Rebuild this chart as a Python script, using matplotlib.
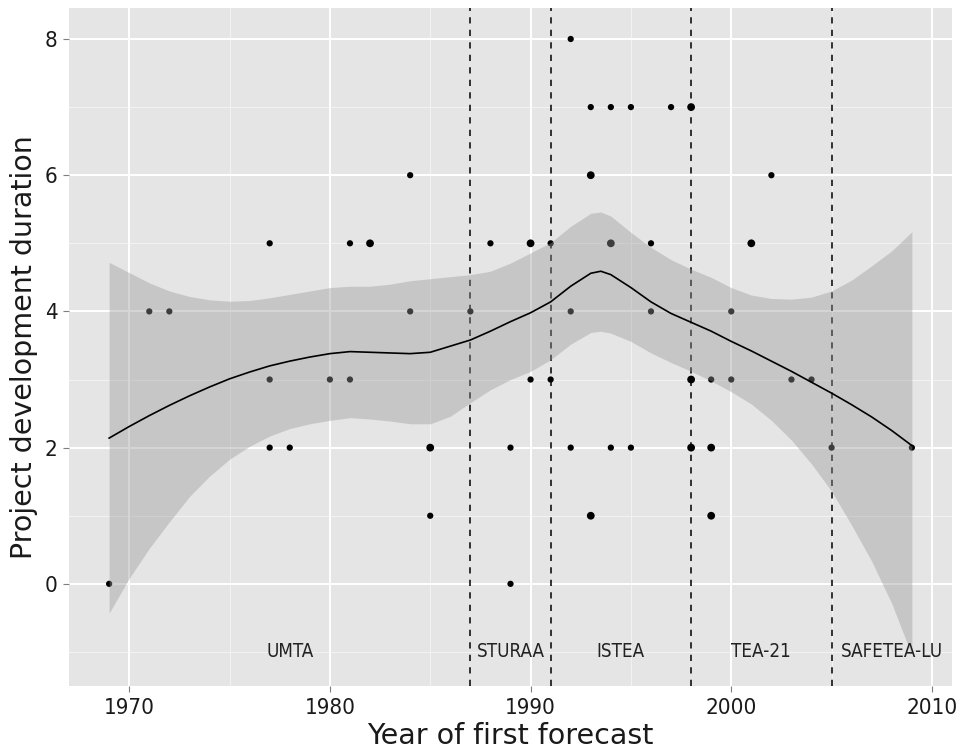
import matplotlib
matplotlib.use("Agg")
import matplotlib.pyplot as plt
from collections import Counter

# Projects: year of first forecast and development duration (years)
years = [1992,
         1993, 1994, 1995, 1997, 1998, 1998,
         1984, 1993, 1993, 2002,
         1977, 1981, 1982, 1982, 1988, 1990, 1990, 1991, 1994, 1994, 1996, 2001, 2001,
         1971, 1972, 1984, 1987, 1992, 1996, 2000,
         1977, 1980, 1981, 1990, 1991, 1998, 1998, 1999, 2000, 2003, 2004,
         1977, 1978, 1985, 1985, 1989, 1992, 1994, 1995, 1998, 1998, 1999, 1999, 2005, 2009,
         1985, 1993, 1993, 1999, 1999,
         1969, 1989]
durations = [8,
             7, 7, 7, 7, 7, 7,
             6, 6, 6, 6,
             5, 5, 5, 5, 5, 5, 5, 5, 5, 5, 5, 5, 5,
             4, 4, 4, 4, 4, 4, 4,
             3, 3, 3, 3, 3, 3, 3, 3, 3, 3, 3,
             2, 2, 2, 2, 2, 2, 2, 2, 2, 2, 2, 2, 2, 2,
             1, 1, 1, 1, 1,
             0, 0]

# Federal transit acts
act_years = [1987, 1991, 1998, 2005]
act_names = ["UMTA", "STURAA", "ISTEA", "TEA-21", "SAFETEA-LU"]
act_label_x = [1978, 1989, 1994.5, 2001.5, 2008]
act_label_y = -1

# Smoothed trend with 95% confidence band
fit_years = [1969, 1970, 1971, 1972, 1973, 1974, 1975, 1976, 1977, 1978,
             1979, 1980, 1981, 1982, 1983, 1984, 1985, 1986, 1987, 1988,
             1989, 1990, 1991, 1992, 1993, 1993.5, 1994, 1995, 1996, 1997,
             1998, 1999, 2000, 2001, 2002, 2003, 2004, 2005, 2006, 2007,
             2008, 2009]
fit_mid = [2.14, 2.31, 2.47, 2.62, 2.76, 2.89, 3.01, 3.11, 3.20, 3.27,
           3.33, 3.38, 3.41, 3.40, 3.39, 3.38, 3.40, 3.49, 3.58, 3.71,
           3.85, 3.98, 4.14, 4.37, 4.56, 4.59, 4.54, 4.35, 4.14, 3.97,
           3.84, 3.71, 3.56, 3.42, 3.27, 3.12, 2.96, 2.80, 2.63, 2.45,
           2.25, 2.03]
fit_high = [4.72, 4.57, 4.42, 4.30, 4.22, 4.17, 4.15, 4.16, 4.20, 4.25,
            4.30, 4.35, 4.37, 4.37, 4.40, 4.45, 4.48, 4.51, 4.54, 4.59,
            4.71, 4.86, 5.01, 5.25, 5.44, 5.46, 5.40, 5.16, 4.94, 4.76,
            4.62, 4.50, 4.35, 4.24, 4.19, 4.18, 4.21, 4.30, 4.46, 4.67,
            4.89, 5.17]
fit_low = [-0.43, 0.08, 0.52, 0.91, 1.28, 1.58, 1.83, 2.02, 2.17, 2.28,
           2.35, 2.40, 2.44, 2.42, 2.39, 2.35, 2.35, 2.46, 2.66, 2.85,
           3.00, 3.12, 3.29, 3.52, 3.69, 3.71, 3.68, 3.56, 3.39, 3.25,
           3.12, 2.98, 2.82, 2.64, 2.40, 2.11, 1.76, 1.36, 0.86, 0.33,
           -0.29, -1.05]

x_ticks = [1970, 1980, 1990, 2000, 2010]
y_ticks = [0, 2, 4, 6, 8]

FONT = dict(family="DejaVu Sans", stretch="condensed")
TEXT_COL = "#1a1a1a"

plt.rcParams["lines.scale_dashes"] = False

fig = plt.figure(figsize=(9.6, 7.53), dpi=100)
ax = fig.add_axes([69 / 960, 1 - 686 / 753, (952 - 69) / 960, (686 - 8) / 753])
ax.set_facecolor("#E5E5E5")
for s in ax.spines.values():
    s.set_visible(False)

ax.set_xlim(1967, 2011)
ax.set_ylim(-1.5, 8.455)

# grid: minor then major
for xm in [1975, 1985, 1995, 2005]:
    ax.axvline(xm, color="#F2F2F2", lw=0.8, zorder=0.5)
for ym in [-1, 1, 3, 5, 7]:
    ax.axhline(ym, color="#F2F2F2", lw=0.8, zorder=0.5)
for xv in x_ticks:
    ax.axvline(xv, color="white", lw=1.4, zorder=0.6)
for yv in y_ticks:
    ax.axhline(yv, color="white", lw=1.4, zorder=0.6)

# points: overlapping observations look heavier
counts = Counter(zip(years, durations))
px = [k[0] for k in counts]
py = [k[1] for k in counts]
sizes = [(4.5 if counts[k] == 1 else 5.6) ** 2 for k in counts]
ax.scatter(px, py, s=sizes, color="black", linewidths=0, zorder=2)

# act boundaries
for xa in act_years:
    ax.axvline(xa, color="black", lw=1.1, dashes=(4.5, 4.5), zorder=2.5)

# confidence band over points, then trend line
ax.fill_between(fit_years, fit_low, fit_high, color="#999999", alpha=0.4,
                linewidth=0, zorder=3)
ax.plot(fit_years, fit_mid, color="black", lw=1.2, zorder=4)

for name, xl in zip(act_names, act_label_x):
    ax.text(xl, act_label_y, name, ha="center", va="center", fontsize=13.5,
            color="#222222", zorder=5, **FONT)

ax.set_xticks(x_ticks)
ax.set_yticks(y_ticks)
ax.tick_params(axis="both", length=4.3, width=0.8, color="#7f7f7f",
               labelcolor=TEXT_COL, labelsize=16, pad=4)
for lab in ax.get_xticklabels() + ax.get_yticklabels():
    lab.set_fontfamily("DejaVu Sans")
    lab.set_fontstretch("condensed")

ax.set_xlabel("Year of first forecast", fontsize=20.5, color=TEXT_COL,
              labelpad=3, family="DejaVu Sans")
ax.set_ylabel("Project development duration", fontsize=20.5, color=TEXT_COL,
              labelpad=5, family="DejaVu Sans")

fig.savefig("out.png", dpi=100, facecolor="white")
